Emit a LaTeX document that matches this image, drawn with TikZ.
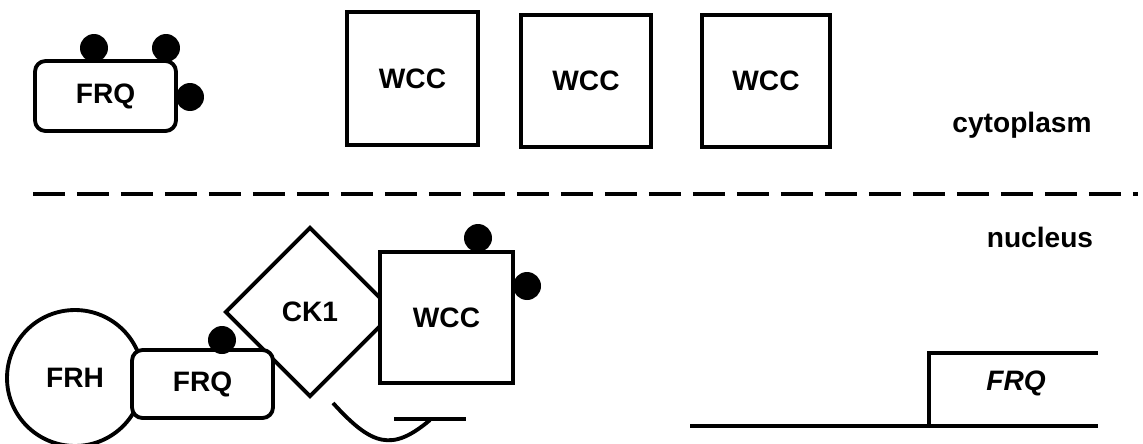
\documentclass[tikz,border=0pt]{standalone}
\usepackage{fontspec}
\setmainfont{Liberation Sans}
\usetikzlibrary{shapes.geometric}

\begin{document}
\begin{tikzpicture}[x=0.02cm, y=-0.02cm, line width=2.2pt, font=\bfseries\fontsize{16}{19}\selectfont]
    \useasboundingbox (0,0) rectangle (1143,443);

    \draw [dash pattern=on 0.64cm off 0.24cm] (33,194) -- (1138,194);

    \begin{scope}[every node/.style={draw, fill=white, line width=2.2pt, inner sep=0pt}]
        \node [rounded corners=6pt, minimum width=2.82cm, minimum height=1.4cm] (frqc) at (105.5,96) {FRQ};
        \node [minimum width=2.62cm, minimum height=2.66cm] (wcc1) at (412.5,78.5) {WCC};
        \node [minimum width=2.6cm, minimum height=2.64cm] (wcc2) at (586,81) {WCC};
        \node [minimum width=2.56cm, minimum height=2.64cm] (wcc3) at (766,81) {WCC};

        \node [circle, minimum size=2.72cm] (frh) at (75,378) {FRH};
        \node [diamond, minimum size=3.4cm] (ck1) at (310,312) {CK1};
        \node [rounded corners=6pt, minimum width=2.82cm, minimum height=1.36cm] (frqn) at (202.5,384) {FRQ};
        \node [minimum width=2.66cm, minimum height=2.62cm] (wccn) at (446.5,317.5) {WCC};
    \end{scope}

    \begin{scope}[every node/.style={circle, fill=black, minimum size=0.56cm, inner sep=0pt}]
        \node (1) at (94,48) {};
        \node (2) at (166,48) {};
        \node (3) at (190,97) {};
        \node (4) at (222,340) {};
        \node (5) at (478,238) {};
        \node (6) at (527,286) {};
    \end{scope}

    \draw (333,403) .. controls (372,446) and (392,452) .. (430,420);
    \draw (394,419) -- (466,419);

    \draw (690,426) -- (1098,426);
    \draw (929,426) -- (929,353) -- (1098,353);
    \node [font=\bfseries\itshape\fontsize{16}{19}\selectfont] (gene) at (1016,383) {FRQ};

    \node [anchor=base] (cyto) at (1022,132) {cytoplasm};
    \node [anchor=base] (nuc) at (1040,247) {nucleus};
\end{tikzpicture}
\end{document}
